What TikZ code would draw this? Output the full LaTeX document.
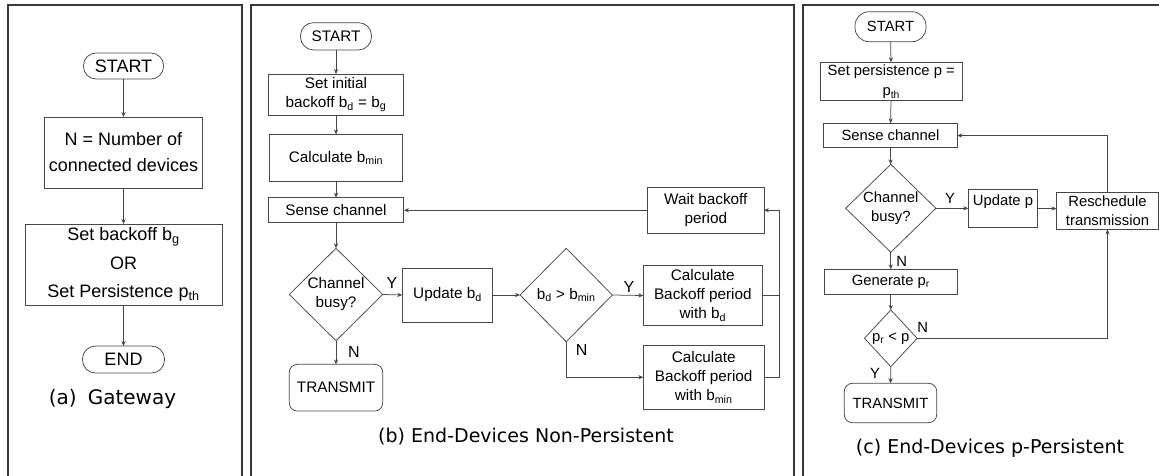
\documentclass[tikz,border=0pt]{standalone}
\usepackage{fontspec}
\setmainfont{Liberation Sans}
\newfontfamily\capfont{DejaVu Sans}
\usetikzlibrary{shapes.geometric,arrows.meta}

\begin{document}
\begin{tikzpicture}[x=1pt,y=-1pt,
  every node/.style={inner sep=0pt, outer sep=0pt, align=center},
  box/.style={draw=black!72, line width=0.75pt},
  sz/.style n args={2}{minimum width=#1pt, minimum height=#2pt},
  term/.style={box, rounded corners=#1pt},
  dec/.style={box, diamond},
  flow/.style={draw=black!72, line width=0.75pt, -{Stealth[length=5pt,width=4.2pt]}},
  plainline/.style={draw=black!72, line width=0.75pt},
  panelframe/.style={draw=black!78, line width=1.5pt},
  fa/.style={font=\fontsize{18}{26}\selectfont},
  fb/.style={font=\fontsize{15.3}{19}\selectfont},
  fc/.style={font=\fontsize{14.8}{19}\selectfont},
  yn/.style={font=\fontsize{16}{16}\selectfont},
  captext/.style={font=\capfont\fontsize{19}{22}\selectfont}
]
\useasboundingbox (0,0) rectangle (1159,475);

% panel frames (open at the bottom edge)
\draw[panelframe] (8,480) -- (8,5) -- (242,5) -- (242,480);
\draw[panelframe] (251,480) -- (251,5) -- (794,5) -- (794,480);
\draw[panelframe] (803,480) -- (803,5) -- (1170,5);

% ---------------- (a) Gateway ----------------
\node[term=12.5, sz={80}{26}, fa] (a0) at (123.5,66) {START};
\node[box, sz={158}{71}, fa] (a1) at (123.5,152.5) {N = Number of\\connected devices};
\node[box, sz={197}{81}, font=\fontsize{18}{28.5}\selectfont] (a2) at (123.5,264.5)
  {Set backoff b\textsubscript{g}\\OR\\Set Persistence p\textsubscript{th}};
\node[term=13, sz={82}{27}, fa] (a3) at (123.5,359.5) {END};
\node[font=\capfont\fontsize{20}{22}\selectfont] (capa) at (112.5,399) {(a)\hspace{11pt}Gateway};

\draw[flow] (a0) -- (a1);
\draw[flow] (a1) -- (a2);
\draw[flow] (a2) -- (a3);

% ---------------- (b) Non-persistent ----------------
\node[term=13, sz={71}{27.3}, fb] (b0) at (336,36.3) {START};
\node[box, sz={134.7}{41.3}, fb] (b1) at (336,94.7) {Set initial\\backoff b\textsubscript{d} = b\textsubscript{g}};
\node[box, sz={133}{47.3}, fb] (b2) at (336,158) {Calculate b\textsubscript{min}};
\node[box, sz={135.7}{25}, fb] (b3) at (336,210.2) {Sense channel};
\node[dec, sz={93.4}{92.4}, fb] (b4) at (336,294.5) {Channel\\busy?};
\node[term=8, sz={93.4}{46.7}, fb] (b5) at (336,387.7) {TRANSMIT};
\node[box, sz={90.4}{54}, fb] (b6) at (447.5,295) {Update b\textsubscript{d}};
\node[dec, sz={92.3}{93.4}, fb] (b7) at (566.2,295) {b\textsubscript{d} > b\textsubscript{min}};
\node[box, sz={119}{60}, fb] (b8) at (702.8,295.5) {Calculate\\Backoff period\\with b\textsubscript{d}};
\node[box, sz={120.7}{64.3}, fb] (b9) at (703.7,377.2) {Calculate\\Backoff period\\with b\textsubscript{min}};
\node[box, sz={116.3}{46}, fb] (b10) at (705.8,210.2) {Wait backoff\\period};
\coordinate (bloop) at (779.3,295.5);
\node[captext] (capb) at (526,436.7) {(b) End-Devices Non-Persistent};

\draw[flow] (b0) -- (b1);
\draw[flow] (b1) -- (b2);
\draw[flow] (b2) -- (b3);
\draw[flow] (b3) -- (b4);
\draw[flow] (b4.east) -- (b6.west);
\node[yn] (b4y) at (392,282.7) {Y};
\draw[flow] (b4) -- (b5);
\node[yn] (b4n) at (354,351.7) {N};
\draw[flow] (b6) -- (b7);
\draw[flow] (b7.east) -- (b8.west);
\node[yn] (b7y) at (629,286.7) {Y};
\draw[flow] (b7.south) |- (b9.west);
\node[yn] (b7n) at (581.7,350) {N};
\draw[plainline] (b8.east) -- (bloop);
\draw[flow] (b9.east) -| (bloop) |- (b10.east);
\draw[flow] (b10.west) -- (b3.east);

% ---------------- (c) p-persistent ----------------
\node[term=14, sz={71}{30}, fc] (c0) at (890.5,26.7) {START};
\node[box, sz={142.3}{38.4}, font=\fontsize{14.8}{20.5}\selectfont] (c1) at (891.2,81.5)
  {Set persistence p =\\p\textsubscript{th}};
\node[box, sz={133.4}{24.4}, fc] (c2) at (890.5,135.5) {Sense channel};
\node[dec, sz={90.3}{86.7}, fc] (c3) at (890.8,208.3) {Channel\\busy?};
\node[box, sz={69.4}{38.4}, fc] (c4) at (1003,208.5) {\raisebox{3.5pt}[0pt][0pt]{Update p}};
\node[box, sz={102}{36.7}, fc] (c5) at (1107.5,211) {Reschedule\\transmission};
\node[box, sz={133.7}{24.7}, fc] (c6) at (890.8,281.7) {Generate p\textsubscript{r}};
\node[dec, sz={52.7}{56.7}, fc] (c7) at (890.8,338.3) {\makebox[0pt]{p\textsubscript{r} < p}};
\node[term=8, sz={92.4}{39.4}, fc] (c8) at (890.5,403) {TRANSMIT};
\node[captext] (capc) at (990,448.3) {(c) End-Devices p-Persistent};

\draw[flow] (c0) -- (c1);
\draw[flow] (c1) -- (c2);
\draw[flow] (c2) -- (c3);
\draw[flow] (c3.east) -- (c4.west |- c3.east);
\node[yn, fc] (c3y) at (950,198.3) {Y};
\draw[flow] (c4.east) -- (c5.west |- c4.east);
\draw[flow] (c5.north) |- (c2.east);
\draw[flow] (c3) -- (c6);
\node[yn, fc] (c3n) at (901.7,261.7) {N};
\draw[flow] (c6) -- (c7);
\draw[flow] (c7.east) -| (c5.south);
\node[yn, fc] (c7n) at (922.7,327.3) {N};
\draw[flow] (c7) -- (c8);
\node[yn, fc] (c7y) at (875,373.3) {Y};
\end{tikzpicture}
\end{document}
